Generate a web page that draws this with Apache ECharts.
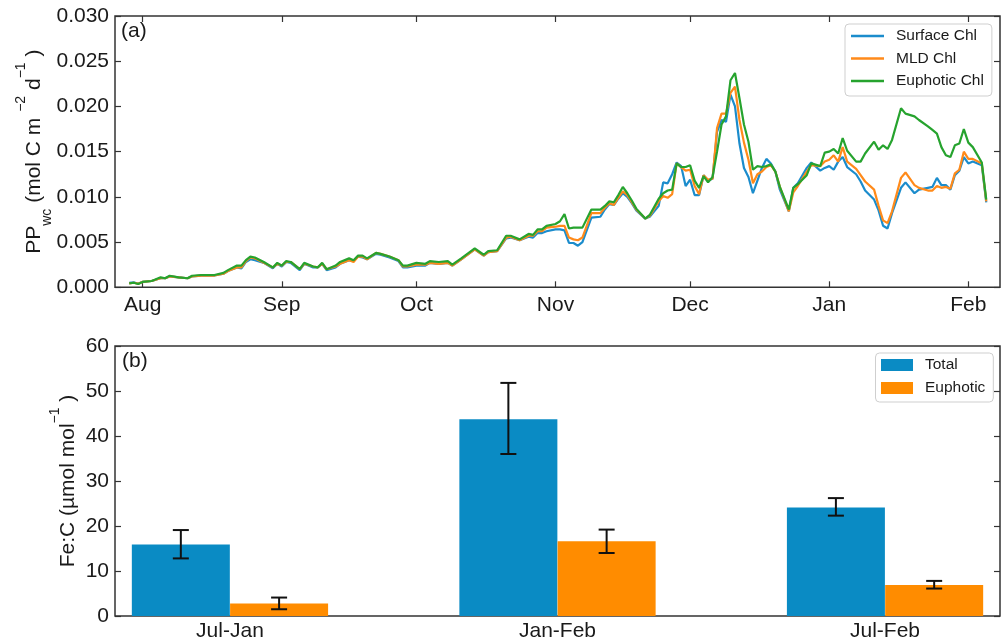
<!DOCTYPE html>
<html>
<head>
<meta charset="utf-8">
<script src="https://cdn.jsdelivr.net/npm/echarts@6/dist/echarts.min.js"></script>
<style>
  html, body { margin: 0; padding: 0; background: #fff; }
  #chart { width: 1002px; height: 642px; }
</style>
</head>
<body>
<div id="chart"></div>
<script>
// ---- Panel (a): water-column primary production, days since 1 Aug ----
const days = [
  -3, -2, -1, 0, 2, 4, 5, 6, 8, 10, 11, 13, 16, 18, 19, 21, 22, 23, 24, 25,
  27, 29, 30, 31, 32, 33, 35, 36, 38, 39, 40, 41, 43, 44, 46, 47, 48, 49, 50, 52,
  53, 55, 57, 58, 59, 61, 63, 64, 66, 68, 69, 71, 74, 76, 77, 79, 81, 82, 84, 86,
  87, 88, 89, 90, 92, 93, 94, 95, 96, 97, 98, 100, 102, 103, 104, 105, 106, 107, 108, 109,
  110, 112, 113, 115, 116, 117, 118, 119, 120, 121, 122, 123, 124, 125, 126, 127, 128, 129, 130, 131,
  132, 133, 134, 135, 136, 137, 138, 139, 140, 141, 142, 144, 145, 146, 148, 149, 151, 152, 153, 154,
  155, 156, 157, 159, 160, 161, 163, 164, 165, 166, 167, 169, 170, 172, 173, 175, 176, 177, 178, 179,
  180, 181, 182, 183, 184, 185, 187, 188
];
const surfaceChl = [
  0.0005, 0.00055, 0.0004, 0.0006, 0.0007, 0.001, 0.001, 0.0012, 0.0011, 0.001, 0.0012, 0.0013, 0.0013, 0.0015, 0.0018, 0.0022, 0.0021, 0.0028, 0.0031, 0.003,
  0.0027, 0.0021, 0.0026, 0.0023, 0.0028, 0.0027, 0.0019, 0.0026, 0.0022, 0.0022, 0.0026, 0.0019, 0.0022, 0.0026, 0.003, 0.0029, 0.0034, 0.0033, 0.0031, 0.0037,
  0.0036, 0.0033, 0.0029, 0.0022, 0.0022, 0.0024, 0.0024, 0.0027, 0.0026, 0.0027, 0.0024, 0.0031, 0.0042, 0.0035, 0.0039, 0.004, 0.0054, 0.0055, 0.0052, 0.0056,
  0.0055, 0.006, 0.006, 0.0062, 0.0064, 0.0064, 0.0063, 0.0049, 0.0049, 0.0046, 0.005, 0.0077, 0.0078, 0.0086, 0.0092, 0.0091, 0.0098, 0.0104, 0.01, 0.0093,
  0.0085, 0.0076, 0.0078, 0.009, 0.0116, 0.0115, 0.0125, 0.0138, 0.0134, 0.0112, 0.0119, 0.0102, 0.0102, 0.0124, 0.0118, 0.012, 0.0172, 0.0185, 0.0183, 0.0213,
  0.02, 0.0159, 0.0132, 0.0122, 0.0104, 0.0118, 0.0132, 0.0142, 0.0137, 0.0128, 0.0108, 0.0084, 0.011, 0.0115, 0.0132, 0.0138, 0.0129, 0.0132, 0.0134, 0.013,
  0.0139, 0.0144, 0.0133, 0.0125, 0.0117, 0.0107, 0.0097, 0.0085, 0.0068, 0.0065, 0.0082, 0.011, 0.0116, 0.0104, 0.0108, 0.011, 0.0111, 0.0121, 0.0113, 0.0113,
  0.0108, 0.0124, 0.0129, 0.0144, 0.0137, 0.0139, 0.0135, 0.0094
];
const mldChl = [
  0.00044, 0.0005, 0.0004, 0.0006, 0.0007, 0.001, 0.001, 0.0012, 0.0011, 0.001, 0.0012, 0.0013, 0.0013, 0.0015, 0.0018, 0.0022, 0.0022, 0.0029, 0.0033, 0.0032,
  0.0027, 0.0022, 0.0026, 0.0024, 0.0028, 0.0028, 0.002, 0.0026, 0.0023, 0.0022, 0.0026, 0.002, 0.0023, 0.0026, 0.003, 0.0028, 0.0034, 0.0034, 0.0031, 0.0038,
  0.0037, 0.0034, 0.003, 0.0023, 0.0023, 0.0025, 0.0025, 0.0027, 0.0026, 0.0027, 0.0024, 0.0031, 0.0042, 0.0035, 0.0039, 0.004, 0.0055, 0.0056, 0.0052, 0.0057,
  0.0057, 0.0062, 0.0062, 0.0066, 0.0067, 0.0068, 0.0068, 0.0055, 0.0053, 0.0052, 0.0055, 0.0082, 0.0082, 0.0088, 0.0093, 0.0091, 0.0099, 0.0106, 0.0102, 0.0094,
  0.0086, 0.0076, 0.0079, 0.0095, 0.0101, 0.0099, 0.0103, 0.0137, 0.0133, 0.0129, 0.013, 0.0112, 0.0103, 0.0124, 0.0119, 0.012, 0.0176, 0.0192, 0.0192, 0.0215,
  0.0222, 0.0185, 0.016, 0.0141, 0.0115, 0.0125, 0.0128, 0.0133, 0.0135, 0.0128, 0.0111, 0.0084, 0.0105, 0.0112, 0.0128, 0.0135, 0.0134, 0.0139, 0.0141, 0.0146,
  0.0139, 0.0155, 0.0139, 0.0131, 0.0124, 0.0117, 0.0108, 0.009, 0.0074, 0.0071, 0.0084, 0.0121, 0.0127, 0.0113, 0.011, 0.0107, 0.0107, 0.0112, 0.011, 0.0111,
  0.0109, 0.0126, 0.013, 0.015, 0.0142, 0.0142, 0.0137, 0.0095
];
const euphoticChl = [
  0.00044, 0.0005, 0.00037, 0.0006, 0.0007, 0.0011, 0.001, 0.00128, 0.0011, 0.001, 0.00128, 0.00136, 0.00136, 0.0016, 0.0019, 0.0024, 0.0024, 0.003, 0.0034, 0.0033,
  0.0028, 0.0022, 0.0027, 0.0024, 0.0029, 0.0028, 0.002, 0.0027, 0.0023, 0.0022, 0.0027, 0.002, 0.0024, 0.0028, 0.0032, 0.003, 0.0035, 0.0035, 0.0032, 0.0038,
  0.0037, 0.0034, 0.003, 0.0024, 0.0024, 0.0027, 0.0026, 0.0029, 0.0028, 0.0029, 0.0025, 0.0032, 0.0043, 0.0036, 0.004, 0.0041, 0.0057, 0.0057, 0.0053, 0.0059,
  0.0058, 0.0064, 0.0064, 0.0068, 0.007, 0.0073, 0.0081, 0.0065, 0.0066, 0.0066, 0.0066, 0.0086, 0.0086, 0.009, 0.0095, 0.0094, 0.0102, 0.0111, 0.0104, 0.0096,
  0.0087, 0.0076, 0.008, 0.0098, 0.0104, 0.0107, 0.0108, 0.0137, 0.0133, 0.0133, 0.0135, 0.0118, 0.011, 0.0123, 0.0116, 0.0122, 0.015, 0.018, 0.0189, 0.0229,
  0.0237, 0.0209, 0.018, 0.0161, 0.013, 0.0134, 0.0133, 0.0134, 0.0136, 0.0128, 0.0111, 0.0086, 0.011, 0.0114, 0.0124, 0.0137, 0.0134, 0.0149, 0.015, 0.0153,
  0.0148, 0.0165, 0.0151, 0.0139, 0.0139, 0.0148, 0.0161, 0.0152, 0.0157, 0.0153, 0.0163, 0.0198, 0.0192, 0.0189, 0.0185, 0.0178, 0.0174, 0.017, 0.0155, 0.0146,
  0.0144, 0.0157, 0.0159, 0.0175, 0.016, 0.0155, 0.0138, 0.0097
];
const monthStarts = [0, 31, 61, 92, 122, 153, 184];
const monthNames = ['Aug', 'Sep', 'Oct', 'Nov', 'Dec', 'Jan', 'Feb'];

// ---- Panel (b): Fe:C ratios per period ----
const periods = ['Jul-Jan', 'Jan-Feb', 'Jul-Feb'];
const feTotal = [15.9, 43.7, 24.1];
const feTotalLow = [12.8, 36.0, 22.3];
const feTotalHigh = [19.1, 51.8, 26.2];
const feEuphotic = [2.8, 16.6, 6.9];
const feEuphoticLow = [1.5, 14.0, 6.1];
const feEuphoticHigh = [4.1, 19.2, 7.8];

const FONT = "'Liberation Sans', Arial, Helvetica, sans-serif";
const INK = '#1a1a1a';
const FRAME = '#333333';
const C_BLUE = '#1b8ccc';
const C_ORANGE = '#ff8a1a';
const C_GREEN = '#26a32e';
const BAR_BLUE = '#0a8bc4';
const BAR_ORANGE = '#ff8c00';
const BAR_OFFSET = 0.15;   // half of the bar width in category units
const BAR_PX = 98;

const tickIn = { show: true, inside: true, length: 6, lineStyle: { color: FRAME, width: 1.2 } };
const noLine = { show: false, onZero: false };
const labelStyle = { fontFamily: FONT, fontSize: 21, color: INK };

const nameRich = {
  m: { fontFamily: FONT, fontSize: 21, color: INK, lineHeight: 40 },
  sup: { fontFamily: FONT, fontSize: 14, color: INK, lineHeight: 14, verticalAlign: 'top' },
  sub: { fontFamily: FONT, fontSize: 14, color: INK, lineHeight: 18, verticalAlign: 'bottom' }
};

const pair = (xs, ys) => xs.map((x, i) => [x, ys[i]]);

const chart = echarts.init(document.getElementById('chart'), null, { renderer: 'canvas' });

chart.setOption({
  animation: false,
  backgroundColor: '#ffffff',
  grid: [
    { left: 115, top: 16, width: 885, height: 271.3, show: true, borderColor: FRAME, borderWidth: 1.5, backgroundColor: 'transparent' },
    { left: 115, top: 346, width: 885, height: 270.5, show: true, borderColor: FRAME, borderWidth: 1.5, backgroundColor: 'transparent' }
  ],
  xAxis: [
    {
      type: 'value', gridIndex: 0, min: -6.17, max: 191.06,
      axisLine: noLine, splitLine: { show: false },
      axisTick: Object.assign({ customValues: monthStarts }, tickIn),
      axisLabel: Object.assign({
        customValues: monthStarts, margin: 7,
        formatter: v => monthNames[monthStarts.indexOf(v)]
      }, labelStyle)
    },
    {
      type: 'value', gridIndex: 0, position: 'top', min: -6.17, max: 191.06,
      axisLine: noLine, splitLine: { show: false },
      axisTick: Object.assign({ customValues: monthStarts }, tickIn),
      axisLabel: { show: false }
    },
    {
      type: 'value', gridIndex: 1, min: -0.351, max: 2.351,
      axisLine: noLine, splitLine: { show: false }, axisTick: { show: false },
      axisLabel: Object.assign({
        customValues: [0, 1, 2], margin: 5,
        formatter: v => periods[v]
      }, labelStyle)
    }
  ],
  yAxis: [
    {
      type: 'value', gridIndex: 0, min: 0, max: 0.03, interval: 0.005,
      axisLine: noLine, splitLine: { show: false }, axisTick: tickIn,
      axisLabel: Object.assign({ margin: 6, formatter: v => v.toFixed(3) }, labelStyle),
      name: '{m|PP}{sub|wc}{m| (mol C m }{sup|\u22122}{m| d}{sup|\u22121}{m| )}',
      nameLocation: 'middle', nameRotate: 90, nameGap: 61, nameMoveOverlap: false,
      nameTextStyle: { rich: nameRich }
    },
    {
      type: 'value', gridIndex: 0, position: 'right', min: 0, max: 0.03, interval: 0.005,
      axisLine: noLine, splitLine: { show: false }, axisTick: tickIn,
      axisLabel: { show: false }
    },
    {
      type: 'value', gridIndex: 1, min: 0, max: 60, interval: 10,
      axisLine: noLine, splitLine: { show: false }, axisTick: tickIn,
      axisLabel: Object.assign({ margin: 6 }, labelStyle),
      name: '{m|Fe:C (\u00b5mol mol}{sup|\u22121}{m| )}',
      nameLocation: 'middle', nameRotate: 90, nameGap: 27, nameMoveOverlap: false,
      nameTextStyle: { rich: nameRich }
    },
    {
      type: 'value', gridIndex: 1, position: 'right', min: 0, max: 60, interval: 10,
      axisLine: noLine, splitLine: { show: false }, axisTick: tickIn,
      axisLabel: { show: false }
    }
  ],
  legend: [
    {
      data: ['Surface Chl', 'MLD Chl', 'Euphotic Chl'],
      orient: 'vertical', left: 845, top: 24,
      icon: 'rect', itemWidth: 33, itemHeight: 2.6, itemGap: 6.5,
      padding: [4, 8, 7, 6],
      borderColor: '#cfcfcf', borderWidth: 1, borderRadius: 4,
      backgroundColor: 'rgba(255,255,255,0.85)',
      textStyle: { fontFamily: FONT, fontSize: 15.5, color: INK, lineHeight: 16, padding: [0, 0, 0, 7] }
    },
    {
      data: ['Total', 'Euphotic'],
      orient: 'vertical', left: 875.5, top: 353,
      icon: 'rect', itemWidth: 32, itemHeight: 12, itemGap: 7,
      padding: [4, 8, 6, 5.5],
      borderColor: '#cfcfcf', borderWidth: 1, borderRadius: 4,
      backgroundColor: 'rgba(255,255,255,0.85)',
      textStyle: { fontFamily: FONT, fontSize: 15.5, color: INK, lineHeight: 16, padding: [0, 0, 0, 7] }
    }
  ],
  graphic: [
    { type: 'text', left: 121, top: 21, style: { text: '(a)', font: '21px ' + FONT, fill: INK } },
    { type: 'text', left: 122, top: 351, style: { text: '(b)', font: '21px ' + FONT, fill: INK } }
  ],
  series: [
    {
      name: 'Surface Chl', type: 'line', xAxisIndex: 0, yAxisIndex: 0,
      data: pair(days, surfaceChl), symbol: 'none', color: C_BLUE,
      lineStyle: { width: 2.2, color: C_BLUE }
    },
    {
      name: 'MLD Chl', type: 'line', xAxisIndex: 0, yAxisIndex: 0,
      data: pair(days, mldChl), symbol: 'none', color: C_ORANGE,
      lineStyle: { width: 2.2, color: C_ORANGE }
    },
    {
      name: 'Euphotic Chl', type: 'line', xAxisIndex: 0, yAxisIndex: 0,
      data: pair(days, euphoticChl), symbol: 'none', color: C_GREEN,
      lineStyle: { width: 2.2, color: C_GREEN }
    },
    {
      name: 'Total', type: 'bar', xAxisIndex: 2, yAxisIndex: 2,
      data: feTotal.map((v, i) => [i - BAR_OFFSET, v]),
      barWidth: BAR_PX, barGap: '-100%', color: BAR_BLUE,
      itemStyle: { color: BAR_BLUE }
    },
    {
      name: 'Euphotic', type: 'bar', xAxisIndex: 2, yAxisIndex: 2,
      data: feEuphotic.map((v, i) => [i + BAR_OFFSET, v]),
      barWidth: BAR_PX, barGap: '-100%', color: BAR_ORANGE,
      itemStyle: { color: BAR_ORANGE }
    },
    {
      name: 'error', type: 'custom', xAxisIndex: 2, yAxisIndex: 2, z: 5,
      data: feTotalLow.map((lo, i) => [i - BAR_OFFSET, lo, feTotalHigh[i]])
        .concat(feEuphoticLow.map((lo, i) => [i + BAR_OFFSET, lo, feEuphoticHigh[i]])),
      renderItem: (params, api) => {
        const x = api.value(0);
        const lo = api.coord([x, api.value(1)]);
        const hi = api.coord([x, api.value(2)]);
        const cap = 8;
        const style = { stroke: '#111', lineWidth: 2 };
        return {
          type: 'group',
          children: [
            { type: 'line', shape: { x1: lo[0], y1: lo[1], x2: hi[0], y2: hi[1] }, style },
            { type: 'line', shape: { x1: lo[0] - cap, y1: lo[1], x2: lo[0] + cap, y2: lo[1] }, style },
            { type: 'line', shape: { x1: hi[0] - cap, y1: hi[1], x2: hi[0] + cap, y2: hi[1] }, style }
          ]
        };
      }
    }
  ]
});
</script>
</body>
</html>
